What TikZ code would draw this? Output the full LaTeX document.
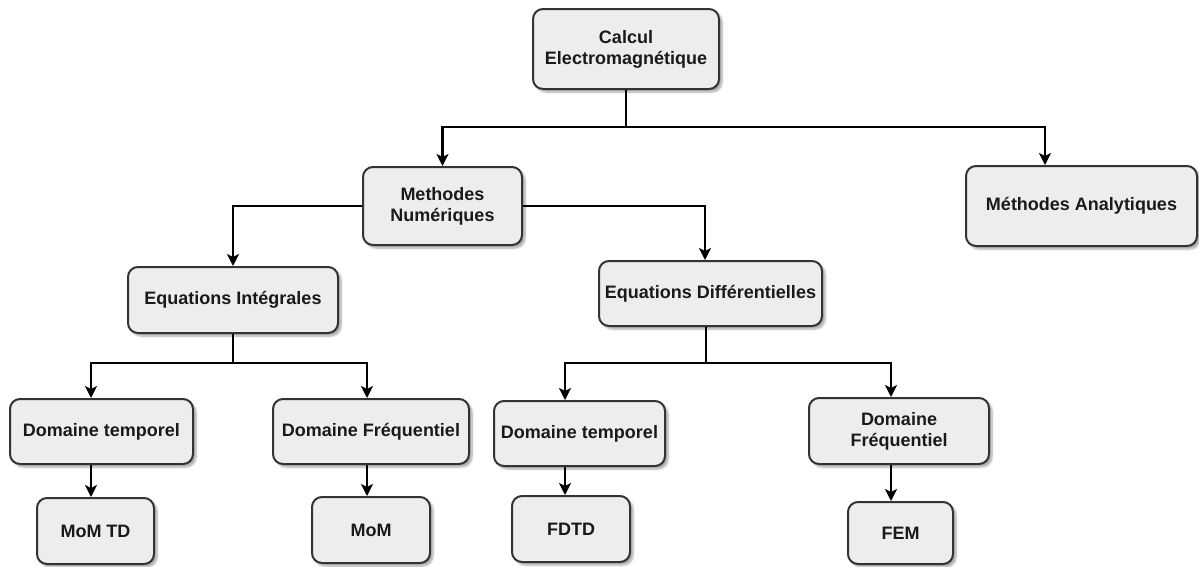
\documentclass[tikz,border=0pt]{standalone}
\usepackage{fontspec}
\setmainfont{Liberation Sans}
\usetikzlibrary{arrows.meta,shadows.blur}
\definecolor{boxfill}{HTML}{EDEDED}
\definecolor{boxline}{HTML}{333333}
\definecolor{txt}{HTML}{1A1A1A}
\begin{document}
\begin{tikzpicture}[x=1pt,y=-1pt,
  box/.style={draw=boxline, fill=boxfill, line width=2pt, rounded corners=10pt,
    align=center, inner sep=2pt, text=txt,
    font=\fontsize{18}{21}\selectfont\bfseries,
    blur shadow={shadow xshift=3pt, shadow yshift=-3pt, shadow blur steps=6, shadow opacity=35}},
  conn/.style={draw=black, line width=2.2pt},
  arr/.style={conn, -{Stealth[length=12pt,width=12pt,inset=3pt]}}]
\useasboundingbox (0,0) rectangle (1199,566);
% nodes
\node[box, minimum width=186, minimum height=80] (calc) at (626,49) {Calcul\\Electromagnétique};
\node[box, minimum width=159, minimum height=78] (num) at (442.5,206) {Methodes\\Numériques};
\node[box, minimum width=231, minimum height=80] (ana) at (1081.5,206) {Méthodes Analytiques};
\node[box, minimum width=210, minimum height=66] (ei) at (233,300) {Equations Intégrales};
\node[box, minimum width=223, minimum height=65] (ed) at (710.5,293.5) {Equations Différentielles};
\node[box, minimum width=183, minimum height=65] (dt1) at (101.5,431.5) {Domaine temporel};
\node[box, minimum width=196, minimum height=65] (df1) at (371,431.5) {Domaine Fréquentiel};
\node[box, minimum width=171, minimum height=65] (dt2) at (579.5,433.5) {Domaine temporel};
\node[box, minimum width=180, minimum height=66] (df2) at (899,431) {Domaine\\Fréquentiel};
\node[box, minimum width=117, minimum height=66] (momtd) at (95.5,531) {MoM TD};
\node[box, minimum width=118, minimum height=66] (mom) at (371,530) {MoM};
\node[box, minimum width=118, minimum height=66] (fdtd) at (571,529) {FDTD};
\node[box, minimum width=105, minimum height=62] (fem) at (900.5,533) {FEM};
% junction coordinates
\coordinate (j0) at (626,127);
\coordinate (xa) at (1045,127);
\coordinate (xed) at (705,0);
\coordinate (j1) at (233,363);
\coordinate (x11) at (91,0);
\coordinate (x12) at (367,0);
\coordinate (j2) at (706,363);
\coordinate (x21) at (565,0);
\coordinate (x22) at (891,0);
% connectors
\draw[conn] (calc.south) -- (j0);
\draw[arr] (j0) -| (num.north);
\draw[arr] (j0) -- (xa) -- (ana.north -| xa);
\draw[arr] (num.west) -| (ei.north);
\draw[arr] (num.east) -| (ed.north -| xed);
\draw[conn] (ei.south) -- (j1);
\draw[arr] (j1) -| (dt1.north -| x11);
\draw[arr] (j1) -| (df1.north -| x12);
\draw[conn] (ed.south -| j2) -- (j2);
\draw[arr] (j2) -| (dt2.north -| x21);
\draw[arr] (j2) -| (df2.north -| x22);
\draw[arr] (dt1.south -| x11) -- (momtd.north -| x11);
\draw[arr] (df1.south -| x12) -- (mom.north -| x12);
\draw[arr] (dt2.south -| x21) -- (fdtd.north -| x21);
\draw[arr] (df2.south -| x22) -- (fem.north -| x22);
\end{tikzpicture}
\end{document}
